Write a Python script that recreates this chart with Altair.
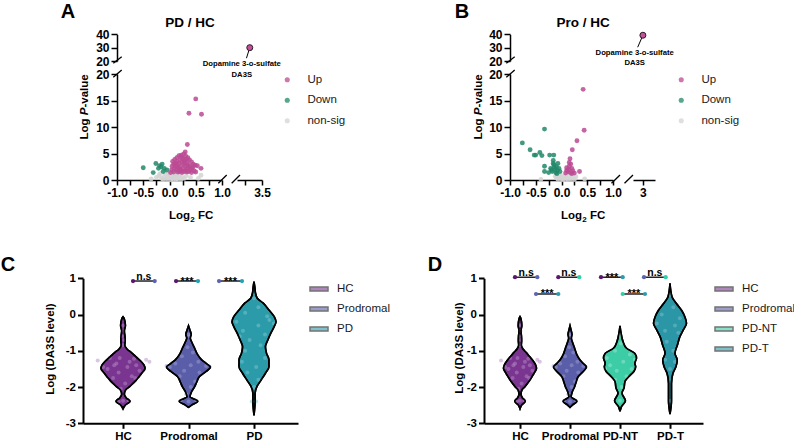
import altair as alt
import pandas as pd

W, H = 794, 443
FONT = "Liberation Sans"

# ---------------- Volcano plot data: (log2 fold change, -log10 P) ----------------
A_UP = [
    (0.34, 6.7), (0.30, 5.3), (0.27, 4.9), (0.22, 4.7), (0.18, 4.6), (0.31, 4.5),
    (0.14, 4.2), (0.25, 4.1), (0.35, 4.2), (0.10, 3.9), (0.20, 3.8), (0.29, 3.7),
    (0.38, 3.8), (0.06, 3.5), (0.15, 3.4), (0.24, 3.4), (0.33, 3.3), (0.42, 3.4),
    (0.08, 3.0), (0.18, 3.1), (0.27, 3.0), (0.36, 2.9), (0.45, 3.0), (0.05, 2.6),
    (0.12, 2.7), (0.21, 2.6), (0.30, 2.6), (0.39, 2.5), (0.49, 2.8), (0.53, 2.7),
    (0.09, 2.2), (0.17, 2.3), (0.26, 2.2), (0.34, 2.1), (0.43, 2.2), (0.60, 2.2),
    (0.04, 1.9), (0.13, 1.9), (0.22, 1.8), (0.31, 1.8), (0.40, 1.9), (0.47, 1.7),
    (0.08, 1.5), (0.16, 1.5), (0.24, 1.4), (0.33, 1.5), (0.42, 1.4), (0.20, 2.0),
    (0.28, 3.3), (0.11, 3.2), (0.23, 4.3), (0.37, 1.6), (0.19, 1.6), (0.28, 1.6),
    (0.02, 1.4), (0.50, 1.5), (0.15, 2.5), (0.35, 2.6), (0.32, 3.9), (0.45, 2.5),
    (0.50, 15.3), (0.37, 12.6), (0.61, 12.4),
]
A_DOWN = [
    (-0.50, 2.3), (-0.26, 3.1), (-0.31, 1.4), (-0.16, 2.5), (-0.14, 3.0),
    (-0.21, 2.2), (-0.05, 1.9), (-0.19, 2.7), (-0.10, 2.2), (-0.12, 1.6),
]
A_NS = [
    (-0.15, 0.3), (-0.10, 0.6), (-0.05, 0.2), (0.00, 0.9), (0.05, 0.4), (0.10, 0.7),
    (0.15, 0.2), (0.20, 1.0), (0.25, 0.5), (-0.20, 0.8), (-0.08, 1.1), (0.02, 0.05),
    (0.08, 1.2), (0.12, 0.15), (0.18, 0.6), (-0.12, 0.1), (0.28, 0.3), (-0.25, 0.5),
    (0.03, 0.6), (-0.03, 0.45), (0.07, 0.1), (0.14, 0.9), (0.22, 0.15), (-0.18, 1.2),
    (0.32, 0.8), (0.60, 0.9), (0.55, 0.3), (-0.35, 0.2), (0.40, 0.5), (0.10, 1.15),
    (-0.02, 1.25), (0.06, 0.85),
]
A_DA3S = (3.28, 30.0)
A_DA3S_TAG = (3.22, 22.1)

B_UP = [
    (0.42, 17.1), (0.44, 9.4), (0.30, 7.4), (0.21, 5.7), (0.165, 4.0), (0.15, 3.3),
    (0.18, 3.0), (0.35, 1.6), (0.10, 2.3), (0.14, 2.0), (0.20, 2.2), (0.12, 1.6),
    (0.17, 1.4), (0.22, 1.7), (0.08, 1.3), (0.25, 1.3), (0.15, 2.6), (0.10, 1.8),
    (0.20, 1.2),
]
B_DOWN = [
    (-0.76, 7.0), (-0.33, 9.6), (-0.61, 5.7), (-0.50, 4.7), (-0.42, 5.2), (-0.38, 4.6),
    (-0.53, 4.7), (-0.23, 4.7), (-0.15, 4.7), (-0.16, 3.7), (-0.33, 2.6), (-0.33, 1.6),
    (-0.21, 2.2), (-0.15, 2.9), (-0.10, 2.5), (-0.13, 2.0), (-0.08, 1.8), (-0.18, 1.6),
    (-0.05, 2.2), (-0.11, 1.4), (-0.07, 3.1), (-0.20, 1.9), (-0.14, 2.4), (-0.03, 1.6),
    (-0.16, 3.1), (-0.09, 1.2), (-0.25, 1.4),
]
B_NS = [
    (-0.10, 0.4), (-0.05, 0.8), (0.00, 0.2), (0.05, 0.6), (0.10, 0.3), (0.15, 0.9),
    (0.20, 0.5), (0.25, 0.1), (-0.02, 1.0), (0.03, 0.05), (0.08, 0.75), (0.12, 0.1),
    (-0.07, 0.15), (0.18, 0.2), (0.28, 0.6), (-0.40, 0.1), (0.45, 0.2), (0.00, 0.55),
    (0.06, 0.3), (-0.12, 0.7),
]
B_DA3S = (3.0, 39.3)
B_DA3S_TAG = (2.81, 30.3)

STATUS = ["Up", "Down", "non-sig"]
STATUS_COLORS = ["#bb4a93", "#22886a", "#d4d4d4"]

# ---------------- Violin data: Log(DA3S level) ----------------
GROUPS_C = ["HC", "Prodromal", "PD"]
GROUPS_D = ["HC", "Prodromal", "PD-NT", "PD-T"]

# violin outlines: (log level, relative density width)
SHAPE = {
    "HC": [(-0.06, 0.0), (-0.12, 0.06), (-0.30, 0.11), (-0.45, 0.06), (-0.60, 0.09),
           (-0.72, 0.10), (-0.85, 0.08), (-0.95, 0.18), (-1.05, 0.38), (-1.16, 0.58),
           (-1.28, 0.80), (-1.39, 0.95), (-1.49, 1.0), (-1.62, 0.85), (-1.72, 0.72),
           (-1.81, 0.60), (-1.90, 0.45), (-1.99, 0.30), (-2.08, 0.12), (-2.20, 0.06),
           (-2.30, 0.15), (-2.39, 0.32), (-2.50, 0.10), (-2.60, 0.0)],
    "Prodromal": [(-0.31, 0.0), (-0.40, 0.05), (-0.55, 0.12), (-0.65, 0.08), (-0.75, 0.14),
                  (-0.93, 0.28), (-1.11, 0.42), (-1.25, 0.60), (-1.36, 0.83), (-1.45, 1.0),
                  (-1.57, 0.80), (-1.71, 0.50), (-1.85, 0.38), (-1.99, 0.28), (-2.13, 0.14),
                  (-2.27, 0.07), (-2.39, 0.42), (-2.50, 0.14), (-2.56, 0.0)],
    "PD": [(0.91, 0.0), (0.75, 0.04), (0.59, 0.07), (0.45, 0.15), (0.32, 0.41),
           (0.125, 0.68), (-0.06, 0.92), (-0.20, 1.0), (-0.33, 0.92), (-0.52, 0.76),
           (-0.70, 0.63), (-0.89, 0.52), (-1.07, 0.57), (-1.25, 0.68), (-1.44, 0.68),
           (-1.62, 0.52), (-1.81, 0.32), (-1.99, 0.13), (-2.17, 0.05), (-2.40, 0.05),
           (-2.78, 0.0)],
    "PD-NT": [(-0.31, 0.0), (-0.50, 0.06), (-0.74, 0.18), (-0.93, 0.40), (-1.07, 0.90),
              (-1.20, 1.0), (-1.34, 0.90), (-1.44, 0.95), (-1.57, 0.84), (-1.71, 0.54),
              (-1.85, 0.30), (-2.03, 0.24), (-2.17, 0.12), (-2.38, 0.33), (-2.54, 0.09),
              (-2.67, 0.0)],
    "PD-T": [(0.86, 0.0), (0.49, 0.12), (0.30, 0.40), (0.12, 0.70), (-0.06, 0.90),
             (-0.24, 1.0), (-0.43, 0.80), (-0.61, 0.60), (-0.84, 0.45), (-1.07, 0.30),
             (-1.25, 0.44), (-1.44, 0.36), (-1.62, 0.18), (-1.90, 0.09), (-2.38, 0.09),
             (-2.75, 0.0)],
}

# individual subjects: (relative jitter, log level)
DOTS = {
    "HC": [(0.0, -0.3), (0.03, -0.45), (0.05, -0.7), (-0.05, -0.6), (0.0, -0.85),
           (-1.15, -1.27), (1.05, -1.25), (1.2, -1.3), (-0.6, -1.2), (0.5, -1.22),
           (-0.3, -1.35), (0.2, -1.45), (-0.7, -1.5), (0.75, -1.55), (-0.2, -1.6),
           (0.4, -1.7), (-0.45, -1.75), (0.1, -1.9), (-0.1, -2.05), (0.0, -2.38),
           (-0.2, -2.4), (0.25, -2.37), (0.6, -1.4), (-0.9, -1.45), (0.3, -1.3),
           (-0.4, -1.4), (0.55, -1.75), (-0.15, -1.2)],
    "Prodromal": [(0.0, -0.55), (0.05, -0.6), (-0.05, -0.9), (0.2, -1.05), (-0.3, -1.15),
                  (0.45, -1.3), (-0.6, -1.35), (0.8, -1.42), (-0.85, -1.45), (0.1, -1.4),
                  (-0.2, -1.55), (0.5, -1.6), (-0.4, -1.7), (0.3, -1.85), (0.1, -2.0),
                  (-0.1, -2.2), (0.35, -2.38), (-0.35, -2.38), (0.0, -2.4), (-1.0, -1.42)],
    "PD": [(0.0, 0.45), (0.2, 0.2), (-0.4, 0.05), (0.6, -0.05), (-0.8, -0.2),
           (0.9, -0.25), (0.2, -0.3), (-0.5, -0.45), (0.5, -0.55), (-0.2, -0.7),
           (0.3, -0.85), (-0.4, -1.0), (0.5, -1.2), (-0.55, -1.3), (0.1, -1.45),
           (-0.3, -1.6), (0.2, -1.8), (0.0, -2.0), (0.1, -2.4), (-0.1, -2.4),
           (0.7, -0.15), (-0.65, -0.6)],
    "PD-NT": [(0.0, -0.55), (0.05, -0.8), (-0.3, -1.0), (0.6, -1.1), (-0.8, -1.2),
              (0.9, -1.25), (0.2, -1.3), (-0.6, -1.4), (0.7, -1.5), (-0.2, -1.55),
              (0.4, -1.7), (-0.3, -1.8), (0.1, -2.0), (0.0, -2.38), (-0.9, -1.5)],
    "PD-T": [(0.0, 0.55), (0.2, 0.2), (-0.5, 0.0), (0.6, -0.1), (-0.8, -0.25),
             (0.3, -0.3), (-0.3, -0.45), (0.5, -0.5), (-0.2, -0.75), (0.2, -1.0),
             (-0.3, -1.25), (0.3, -1.3), (0.0, -1.5), (0.0, -2.38)],
}

# pairwise comparisons and where their brackets sit (category units, log level)
C_COMPARE = [("HC", "Prodromal", "n.s"), ("HC", "PD", "***"), ("Prodromal", "PD", "***")]
C_SPANS = [(1.153, 1.484, 0.925), (1.81, 2.145, 0.925), (2.466, 2.817, 0.925)]
D_COMPARE = [("HC", "Prodromal", "n.s"), ("HC", "PD-NT", "n.s"), ("HC", "PD-T", "***"),
             ("Prodromal", "PD-NT", "n.s"), ("Prodromal", "PD-T", "***"), ("PD-NT", "PD-T", "***")]
D_SPANS = [(0.90, 1.346, 1.03), (1.766, 2.186, 1.03), (2.62, 3.054, 1.03),
           (3.48, 3.914, 1.03), (1.32, 1.766, 0.567), (3.054, 3.5, 0.567)]

FILL = {"HC": "#7a3590", "Prodromal": "#5a5ea8", "PD": "#2c9ba9", "PD-NT": "#3ccca6", "PD-T": "#2a96a6"}
LIGHT = {"HC": "#b58bc7", "Prodromal": "#9a9dd4", "PD": "#7cc6cf", "PD-NT": "#9be6cf", "PD-T": "#7cc0cc"}
PIN = {"HC": "#5a1670", "Prodromal": "#5c63b5", "PD": "#23a2b4", "PD-NT": "#2fd0a6", "PD-T": "#2a9db0"}

# ---------------- panel geometry (pixel placement of each axis system) ----------------
GEO_A = dict(x=[-1, 1], xr=[117, 222], x2=[3.05, 3.5], x2r=[237, 262],
             yl=[0, 20], ylr=[180, 74], yu=[20, 40], yur=[61, 34.3], ax=117, ay=180)
GEO_B = dict(x=[-1, 1], xr=[510, 613], x2=[2.64, 3.44], x2r=[633, 655],
             yl=[0, 20], ylr=[180, 74], yu=[20, 40], yur=[61, 34.3], ax=510, ay=180)
GEO_C = dict(x=[0.389, 3.672], xr=[83, 298], y=[-3, 1], yr=[423.3, 278.3], half=0.336, ax=83, ay=423.3)
GEO_D = dict(x=[0.28, 4.66], xr=[484, 703], y=[-3, 1], yr=[423.3, 278.3], half=0.33, ax=484, ay=423.3)

SIGNED_1F = "(datum.value < 0 ? '-' : '') + format(abs(datum.value), '.1f')"
FC_EXPR = "abs(datum.value % 0.5) < 1e-9 ? " + SIGNED_1F + " : ''"
SIGNED_INT = "(datum.value < 0 ? '-' : '') + format(abs(datum.value), 'd')"
FC_TICKS = [-1, -0.75, -0.5, -0.25, 0, 0.25, 0.5, 0.75, 1]


def scale(dom, rng):
    return alt.Scale(domain=dom, range=rng, nice=False, zero=False)


def bottom_axis(y_pix, values, expr, width=1.5, tick=5, size=12):
    return alt.Axis(orient="bottom", offset=y_pix - H, values=values, labelExpr=expr, title=None,
                    domainWidth=width, tickWidth=width, tickSize=tick, labelFontSize=size)


def left_axis(x_pix, values, expr, width=1.5, tick=6, size=12):
    return alt.Axis(orient="left", offset=-x_pix, values=values, labelExpr=expr, title=None,
                    domainWidth=width, tickWidth=width, tickSize=tick, labelFontSize=size)


def text(s, x, y, size, weight="bold", angle=0, align="center", baseline="middle", style="normal"):
    return alt.Chart(pd.DataFrame({"t": [s]})).mark_text(
        font=FONT, fontSize=size, fontWeight=weight, fontStyle=style, angle=angle,
        align=align, baseline=baseline, color="black",
    ).encode(text="t:N", x=alt.value(x), y=alt.value(y))


def slash(x1, y1, x2, y2):
    return alt.Chart(pd.DataFrame({"k": [0]})).mark_rule(color="black", strokeWidth=1.3).encode(
        x=alt.value(x1), y=alt.value(y1), x2=alt.value(x2), y2=alt.value(y2))


def volcano(up, down, ns, hit, tag, g, seg2_ticks, seg2_expr, legend_x, legend_y, label_dx, label_dy):
    pts = pd.DataFrame(
        [{"fc": x, "p": y, "status": "non-sig"} for x, y in ns]
        + [{"fc": x, "p": y, "status": "Down"} for x, y in down]
        + [{"fc": x, "p": y, "status": "Up"} for x, y in up]
    )
    main = alt.Chart(pts).mark_circle(size=24, fillOpacity=0.85).encode(
        x=alt.X("fc:Q", scale=scale(g["x"], g["xr"]), axis=bottom_axis(g["ay"], FC_TICKS, FC_EXPR)),
        y=alt.Y("p:Q", scale=scale(g["yl"], g["ylr"]),
                axis=left_axis(g["ax"], [0, 5, 10, 15, 20], "format(datum.value, 'd')")),
        color=alt.Color("status:N", scale=alt.Scale(domain=STATUS, range=STATUS_COLORS),
                        legend=alt.Legend(orient="none", legendX=legend_x, legendY=legend_y, title=None,
                                          symbolType="circle", symbolSize=26, labelFont=FONT,
                                          labelFontSize=11.5, labelColor="#1a1a1a", labelOffset=14.4,
                                          rowPadding=7.5, padding=0, symbolOpacity=0.75,
                                          symbolStrokeWidth=0)),
    )
    hdf = pd.DataFrame({"fc": [hit[0]], "p": [hit[1]], "fc2": [tag[0]], "p2": [tag[1]],
                        "name": ["Dopamine 3-o-sulfate\nDA3S"]})
    xs2 = scale(g["x2"], g["x2r"])
    yu = scale(g["yu"], g["yur"])
    leader = alt.Chart(hdf).mark_rule(color="black", strokeWidth=1).encode(
        x=alt.X("fc:Q", scale=xs2, axis=bottom_axis(g["ay"], seg2_ticks, seg2_expr)),
        y=alt.Y("p:Q", scale=yu, axis=left_axis(g["ax"], [20, 30, 40], "format(datum.value, 'd')")),
        x2="fc2:Q", y2="p2:Q",
    )
    dot = alt.Chart(hdf).mark_circle(size=36, fill="#c4509a", stroke="#2e1a28", strokeWidth=1, opacity=1).encode(
        x=alt.X("fc:Q", scale=xs2, axis=None), y=alt.Y("p:Q", scale=yu, axis=None))
    lab = alt.Chart(hdf).mark_text(font=FONT, fontSize=7.7, fontWeight="bold", align="center",
                                   baseline="alphabetic", lineBreak="\n", lineHeight=10.5,
                                   dx=label_dx, dy=label_dy, color="black").encode(
        x=alt.X("fc:Q", scale=xs2, axis=None), y=alt.Y("p:Q", scale=yu, axis=None), text="name:N")
    return [main, leader, dot, lab]


def violin_panel(groups, compare, spans, g, legend_x, legend_y):
    half = g["half"]
    xs = scale(g["x"], g["xr"])
    ys = scale(g["y"], g["yr"])
    orows, drows = [], []
    for i, grp in enumerate(groups):
        c = i + 1
        for v, w in SHAPE[grp]:
            orows.append({"group": grp, "v": v, "lo": c - w * half, "hi": c + w * half})
        for j, v in DOTS[grp]:
            drows.append({"group": grp, "v": v, "xd": c + j * half})
    odf = pd.DataFrame(orows)
    ddf = pd.DataFrame(drows)
    cat_expr = "[''," + ",".join(f"'{x}'" for x in groups) + "][datum.value]"

    fill = alt.Chart(odf).mark_area(orient="horizontal", interpolate="monotone",
                                    stroke="black", strokeWidth=1.6).encode(
        y=alt.Y("v:Q", scale=ys, axis=left_axis(g["ax"], [-3, -2, -1, 0, 1], SIGNED_INT,
                                                width=2, tick=5.5, size=11.5)),
        x=alt.X("lo:Q", scale=xs, axis=bottom_axis(g["ay"], list(range(1, len(groups) + 1)), cat_expr,
                                                   width=2, tick=5, size=11.5)),
        x2="hi:Q",
        color=alt.Color("group:N", scale=alt.Scale(domain=groups, range=[FILL[k] for k in groups]),
                        legend=alt.Legend(orient="none", legendX=legend_x, legendY=legend_y, title=None,
                                          symbolType="M-1,-0.236H1V0.236H-1Z", symbolSize=324,
                                          labelFont=FONT, labelFontSize=11.5, labelColor="#1a1a1a",
                                          labelOffset=8, rowPadding=4, padding=0, symbolOpacity=0.6,
                                          symbolStrokeColor="#1a1a1a", symbolStrokeWidth=1.5)),
    )
    dots = alt.Chart(ddf).mark_circle(size=16, opacity=0.5).encode(
        x=alt.X("xd:Q", scale=xs, axis=None), y=alt.Y("v:Q", scale=ys, axis=None),
        color=alt.Color("group:N", scale=alt.Scale(domain=groups, range=[LIGHT[k] for k in groups]),
                        legend=None),
    )
    outline = alt.Chart(odf).mark_area(orient="horizontal", interpolate="monotone", fillOpacity=0,
                                       stroke="black", strokeWidth=1.6).encode(
        y=alt.Y("v:Q", scale=ys, axis=None), x=alt.X("lo:Q", scale=xs, axis=None), x2="hi:Q",
        detail="group:N",
    )
    brows, prow = [], []
    for (g1, g2, lab), (x1, x2, lv) in zip(compare, spans):
        brows.append({"x1": x1, "x2": x2, "mid": (x1 + x2) / 2, "v": lv, "lab": lab})
        prow.append({"x": x1, "v": lv, "group": g1})
        prow.append({"x": x2, "v": lv, "group": g2})
    bdf = pd.DataFrame(brows)
    pdf = pd.DataFrame(prow)
    rules = alt.Chart(bdf).mark_rule(color="black", strokeWidth=1.3).encode(
        x=alt.X("x1:Q", scale=xs, axis=None), x2="x2:Q", y=alt.Y("v:Q", scale=ys, axis=None))
    pins = alt.Chart(pdf).mark_circle(size=18, opacity=1).encode(
        x=alt.X("x:Q", scale=xs, axis=None), y=alt.Y("v:Q", scale=ys, axis=None),
        color=alt.Color("group:N", scale=alt.Scale(domain=groups, range=[PIN[k] for k in groups]),
                        legend=None))
    ns_txt = alt.Chart(bdf).transform_filter("datum.lab == 'n.s'").mark_text(
        font=FONT, fontSize=10.5, fontWeight="bold", baseline="alphabetic", dy=-1.5, color="black").encode(
        x=alt.X("mid:Q", scale=xs, axis=None), y=alt.Y("v:Q", scale=ys, axis=None), text="lab:N")
    st_txt = alt.Chart(bdf).transform_filter("datum.lab != 'n.s'").mark_text(
        font=FONT, fontSize=11, fontWeight="bold", baseline="alphabetic", dy=3.5, color="black").encode(
        x=alt.X("mid:Q", scale=xs, axis=None), y=alt.Y("v:Q", scale=ys, axis=None), text="lab:N")
    return [fill, dots, outline, rules, pins, ns_txt, st_txt]


layers = []
layers += volcano(A_UP, A_DOWN, A_NS, A_DA3S, A_DA3S_TAG, GEO_A, [3.2, 3.5],
                  "datum.value == 3.5 ? '3.5' : ''", 281.5, 74, -8, 18.4)
layers += volcano(B_UP, B_DOWN, B_NS, B_DA3S, B_DA3S_TAG, GEO_B, [3.0],
                  "'3'", 675.5, 74, -8.2, 19.4)
layers += violin_panel(GROUPS_C, C_COMPARE, C_SPANS, GEO_C, 309, 279)
layers += violin_panel(GROUPS_D, D_COMPARE, D_SPANS, GEO_D, 714, 279)

# axis breaks
layers += [
    slash(113.3, 63.3, 121.7, 56.7), slash(113.3, 77.3, 121.7, 70.0),
    slash(218.3, 183.3, 226.7, 175.0), slash(231.7, 183.3, 240.0, 175.0),
    slash(506.3, 63.3, 514.7, 56.7), slash(506.3, 77.3, 514.7, 70.0),
    slash(611.5, 183.3, 620.0, 175.0), slash(624.5, 183.3, 633.0, 175.0),
]

# panel letters and titles
layers += [
    text("A", 68, 12, 20), text("B", 462, 12, 20), text("C", 8, 265, 20), text("D", 435, 265, 20),
    text("PD / HC", 190, 23, 13.5), text("Pro / HC", 583, 23, 13.5),
]
# y titles "Log P-value" (italic P)
for bx in (88, 482):
    layers += [
        text("Log", bx, 139.6, 11.5, angle=270, align="left", baseline="alphabetic"),
        text("P", bx, 115.3, 11.5, angle=270, align="left", baseline="alphabetic", style="italic"),
        text("-value", bx, 107.6, 11.5, angle=270, align="left", baseline="alphabetic"),
    ]
# x titles "Log2 FC" with subscript
for sx in (169, 561):
    layers += [
        text("Log", sx, 218.5, 11.5, align="left", baseline="alphabetic"),
        text("2", sx + 21.3, 221.5, 8, align="left", baseline="alphabetic"),
        text("FC", sx + 29, 218.5, 11.5, align="left", baseline="alphabetic"),
    ]
layers += [
    text("Log (DA3S level)", 54, 349, 11.5, angle=270, baseline="alphabetic"),
    text("Log (DA3S level)", 463, 348, 11.5, angle=270, baseline="alphabetic"),
]

chart = alt.layer(*layers).resolve_scale(
    x="independent", y="independent", color="independent"
).properties(
    width=W, height=H, autosize=alt.AutoSizeParams(type="none"), padding=0, background="white"
).configure_view(stroke=None).configure_axis(
    labelFont=FONT, labelFontWeight="bold", labelColor="black", domainColor="black",
    tickColor="black", grid=False, labelFlush=False, labelOverlap=False, labelPadding=2,
)

chart.save("out.html", embed_options={"renderer": "svg", "actions": False})
